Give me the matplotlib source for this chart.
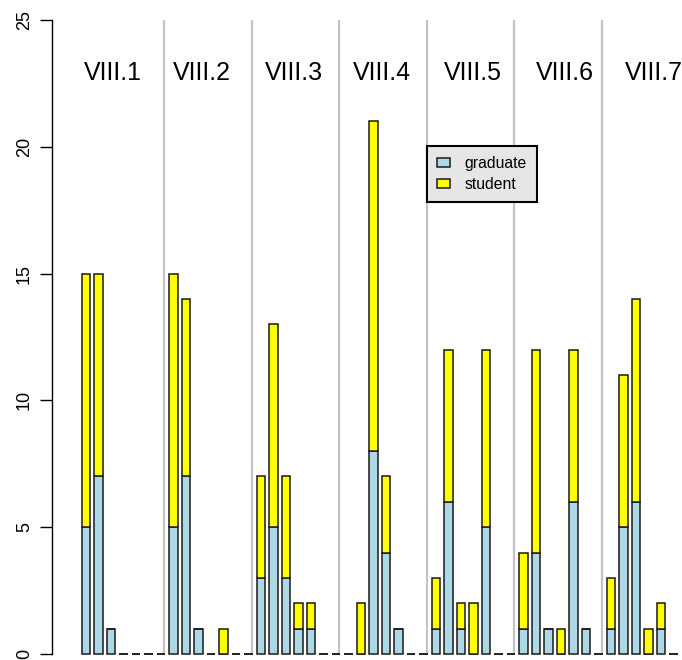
import matplotlib
matplotlib.use('Agg')
import matplotlib.pyplot as plt
import numpy as np

plt.rcParams['font.family'] = ['Liberation Sans', 'DejaVu Sans']

groups = ['VIII.1', 'VIII.2', 'VIII.3', 'VIII.4', 'VIII.5', 'VIII.6', 'VIII.7']
# 7 bars per group, read left to right
graduate = [
    [5, 7, 1, 0, 0, 0, 0],
    [5, 7, 1, 0, 0, 0, 0],
    [3, 5, 3, 1, 1, 0, 0],
    [0, 0, 8, 4, 1, 0, 0],
    [1, 6, 1, 0, 5, 0, 0],
    [1, 4, 1, 0, 6, 1, 0],
    [1, 5, 6, 0, 1, 0, 0],
]
student = [
    [10, 8, 0, 0, 0, 0, 0],
    [10, 7, 0, 0, 1, 0, 0],
    [4, 8, 4, 1, 1, 0, 0],
    [0, 2, 13, 3, 0, 0, 0],
    [2, 6, 1, 2, 7, 0, 0],
    [3, 8, 0, 1, 6, 0, 0],
    [2, 6, 8, 1, 1, 0, 0],
]
yticks = [0, 5, 10, 15, 20, 25]

grad = np.array(graduate).ravel()
stud = np.array(student).ravel()
x = np.arange(len(grad))

fig = plt.figure(figsize=(6.82, 6.60), dpi=100)
ax = fig.add_axes([0, 0, 1, 1])

edge = '#1a1a1a'
b1 = ax.bar(x, grad, width=0.714, color='lightblue', edgecolor=edge, linewidth=1.1)
b2 = ax.bar(x, stud, bottom=grad, width=0.714, color='yellow', edgecolor=edge, linewidth=1.1)

# group separators
seps = [7 * k - 0.75 for k in range(1, len(groups))]
ax.vlines(seps, 0, 25, color='#c4c4c4', linewidth=1.6, zorder=0)

# group titles
label_x = [2.12, 9.24, 16.6, 23.68, 30.96, 38.32, 45.44]
for lx, g in zip(label_x, groups):
    ax.text(lx, 22.9, g, fontsize=18, ha='center', va='center')

ax.set_xlim(-6.88, 47.68)
ax.set_ylim(-0.237, 25.79)

for s in ['top', 'right', 'bottom']:
    ax.spines[s].set_visible(False)
ax.spines['left'].set_position(('data', -2.72))
ax.spines['left'].set_bounds(0, 25)
ax.spines['left'].set_linewidth(1)
ax.set_xticks([])
ax.set_yticks(yticks)
ax.tick_params(axis='y', direction='out', length=8.6, width=1, pad=5,
               labelsize=13, labelrotation=90)
for lab in ax.get_yticklabels():
    lab.set_va('center')

leg = ax.legend([b1, b2], ['graduate', 'student'], loc='upper left',
                bbox_to_anchor=(427 / 682, 1 - 146 / 660),
                bbox_transform=fig.transFigure, borderaxespad=0,
                fancybox=False, edgecolor='black', facecolor='#e6e6e6',
                framealpha=1, fontsize=11.3, handlelength=0.8, handleheight=0.5,
                handletextpad=0.95, labelspacing=0.35, borderpad=0.65)
leg.get_frame().set_linewidth(1.5)

fig.savefig('out.png', dpi=100)
